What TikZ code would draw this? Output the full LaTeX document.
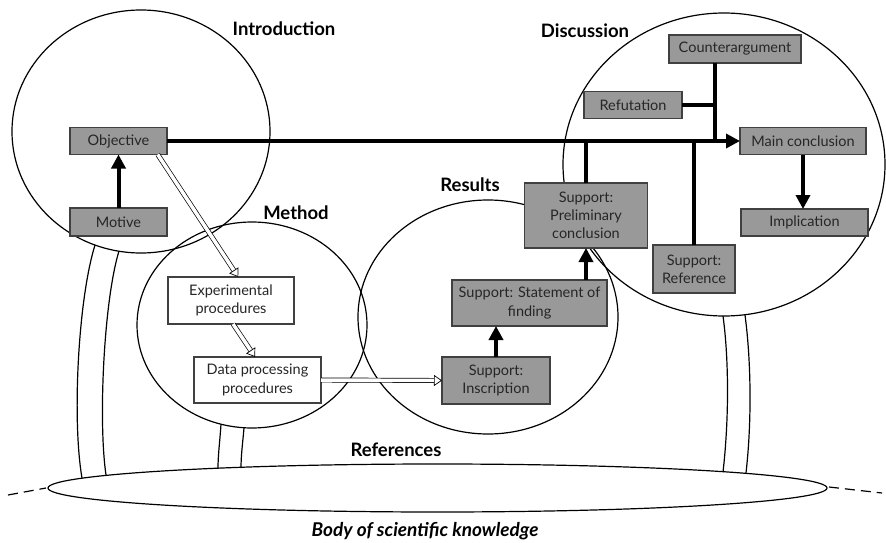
\documentclass[tikz,border=0pt]{standalone}
\usepackage{fontspec}
\setmainfont{Lato}
\usetikzlibrary{arrows.meta}
\definecolor{boxgray}{RGB}{153,153,153}
\begin{document}
\begin{tikzpicture}[x=1pt,y=-1pt,
  box/.style={draw=black!75, line width=1.1pt, fill=boxgray, text=black!85,
    font=\fontsize{14.5}{18.3}\selectfont, align=center, inner sep=0pt, outer sep=0pt},
  plainbox/.style={box, fill=white},
  ring/.style={draw=black, line width=1.2pt},
  heavy/.style={line width=4pt},
  heavyarrow/.style={heavy, -{Triangle[length=14pt,width=14pt]}},
  hollow/.style={draw=black, line width=0.7pt, double=white, double distance=3.5pt,
    -{Triangle[length=8pt,width=11pt,fill=white,line width=0.7pt]}},
  title/.style={font=\bfseries\fontsize{18.5}{22}\selectfont},
  stem/.style={line width=1.2pt},
]
\useasboundingbox (0,0) rectangle (886,543);

% the four sections and the body of knowledge
\draw[ring] (141,131.5) ellipse [x radius=129pt, y radius=121.5pt];
\draw[ring] (252,325) ellipse [x radius=115pt, y radius=103pt];
\draw[ring] (488,317) ellipse [x radius=130pt, y radius=117pt];
\draw[ring] (724,164.5) ellipse [x radius=161pt, y radius=151.5pt];
\draw[ring] (437.5,488) ellipse [x radius=389.5pt, y radius=24pt];
\draw[ring, dash pattern=on 10pt off 6pt] (8,495) -- (46,488);
\draw[ring, dash pattern=on 10pt off 6pt] (829,487) -- (882,493);

% stems linking sections to the references
\draw[stem] (95,245) .. controls (78,300) and (72,420) .. (82,478);
\draw[stem] (119,251) .. controls (104,300) and (98,420) .. (106,475);
\draw[stem] (221,424) .. controls (220,440) and (218,455) .. (218,468);
\draw[stem] (244,428) .. controls (243,440) and (241,455) .. (241,468);
\draw[stem] (723,316) .. controls (729,360) and (729,420) .. (723,472);
\draw[stem] (745,315) .. controls (751,360) and (752,420) .. (746,473);

% section titles
\node[title] (lintro) at (284,29) {Introduction};
\node[title] (ldisc) at (585,31) {Discussion};
\node[title] (lmeth) at (296,213) {Method};
\node[title] (lres) at (470,185) {Results};
\node[title] (lref) at (396,450) {References};
\node[font=\bfseries\itshape\fontsize{19}{22}\selectfont] (lbody) at (425,531) {Body of scientific knowledge};

% argument elements
\node[box, minimum width=97pt, minimum height=27pt] (obj) at (118.5,141) {Objective};
\node[box, minimum width=97pt, minimum height=28pt] (mot) at (118.5,222) {Motive};
\node[box, minimum width=132pt, minimum height=28pt] (counter) at (735,49) {Counterargument};
\node[box, minimum width=98pt, minimum height=27pt] (refut) at (633,105) {Refutation};
\node[box, minimum width=126pt, minimum height=27pt] (mainc) at (803,141) {Main conclusion};
\node[box, minimum width=127pt, minimum height=27pt] (impl) at (804.5,222.5) {Implication};
\node[box, minimum width=123pt, minimum height=65pt] (prelim) at (586,215.5) {Support:\\Preliminary\\conclusion};
\node[box, minimum width=155pt, minimum height=46pt] (stmt) at (529.5,303) {Support: Statement of\\finding};
\node[box, minimum width=108pt, minimum height=47pt] (insc) at (496,380.5) {Support:\\Inscription};
\node[box, minimum width=82pt, minimum height=48pt] (sref) at (694,269) {Support:\\Reference};
\node[plainbox, minimum width=126pt, minimum height=47pt] (exper) at (231,300.5) {Experimental\\procedures};
\node[plainbox, minimum width=127pt, minimum height=46pt] (dproc) at (257.5,380) {Data processing\\procedures};

% main line of argument
\coordinate (jc) at (715,141);
\draw[heavyarrow] (obj.east) -- (mainc.west);
\draw[heavy] (counter.south -| jc) -- (jc);
\draw[heavy] (refut.east) -- (refut.east -| jc);
\draw[heavy] (prelim.north) -- (prelim.north |- obj.east);
\draw[heavy] (sref.north) -- (sref.north |- obj.east);
\draw[heavyarrow] (mot.north) -- (obj.south);
\draw[heavyarrow] (mainc.south) -- (mainc.south |- impl.north);
\draw[heavyarrow] (stmt.north -| prelim.south) -- (prelim.south);
\draw[heavyarrow] (insc.north) -- (insc.north |- stmt.south);

% procedural flow
\draw[hollow] (obj.-19) -- (exper.73);
\draw[hollow] (exper.-85) -- (dproc.96);
\draw[hollow] (dproc.east) -- (insc.west);
\end{tikzpicture}
\end{document}
